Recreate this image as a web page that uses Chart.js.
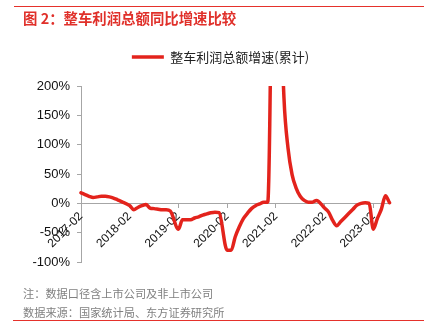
<!DOCTYPE html>
<html>
<head>
<meta charset="utf-8">
<script src="https://cdn.jsdelivr.net/npm/chart.js@4.4.1/dist/chart.umd.min.js"></script>
<style>
  html, body { margin: 0; padding: 0; background: #ffffff; }
  #wrap { position: relative; width: 424px; height: 336px; overflow: hidden; }
  #c { position: absolute; left: 0; top: 0; }
  .rule { position: absolute; left: 14px; width: 410px; height: 1px; background: #e5312b; }
  #title { position: absolute; left: 23px; top: 8px; font-family: "Noto Sans CJK SC", sans-serif; font-weight: bold; font-size: 14.4px; color: #e0302a; white-space: nowrap; line-height: 19px; }
  .note { position: absolute; left: 23px; font-family: "Noto Sans CJK SC", sans-serif; font-size: 11.2px; color: #808080; white-space: nowrap; line-height: 15px; }
</style>
</head>
<body>
<div id="wrap">
  <canvas id="c" width="424" height="336"></canvas>
  <div class="rule" style="top:6px;"></div>
  <div id="title">图 2：整车利润总额同比增速比较</div>
  <div class="note" style="top:286px;">注：数据口径含上市公司及非上市公司</div>
  <div class="note" style="top:305px;">数据来源：国家统计局、东方证券研究所</div>
  <div class="rule" style="top:320px; left:13px; width:411px;"></div>
</div>
<script>
// Categories (monthly, cumulative data; January not published -> null)
const months = [
  '2017-02','2017-03','2017-04','2017-05','2017-06','2017-07','2017-08','2017-09','2017-10','2017-11','2017-12',
  '2018-01','2018-02','2018-03','2018-04','2018-05','2018-06','2018-07','2018-08','2018-09','2018-10','2018-11','2018-12',
  '2019-01','2019-02','2019-03','2019-04','2019-05','2019-06','2019-07','2019-08','2019-09','2019-10','2019-11','2019-12',
  '2020-01','2020-02','2020-03','2020-04','2020-05','2020-06','2020-07','2020-08','2020-09','2020-10','2020-11','2020-12',
  '2021-01','2021-02','2021-03','2021-04','2021-05','2021-06','2021-07','2021-08','2021-09','2021-10','2021-11','2021-12',
  '2022-01','2022-02','2022-03','2022-04','2022-05','2022-06','2022-07','2022-08','2022-09','2022-10','2022-11','2022-12',
  '2023-01','2023-02','2023-03','2023-04','2023-05','2023-06'
];
// 整车利润总额增速(累计), %
const profitGrowth = [
  18, 15, 12, 10, 11, 12, 12, 11, 9, 6, 3,
  null, -4, -11, -7, -4, -2, -8, -9, -10, -11, -11, -13,
  null, -44, -28, -28, -28, -25, -23, -20, -18, -16, -15, -16,
  null, -80, -80, -57, -40, -26, -17, -9, -4, -1, 2, 2,
  null, 850, 400, 180, 94, 49, 26, 12, 5, 2, 2, 5,
  null, -8, -15, -29, -38, -31, -24, -17, -10, -3, 0, 1,
  0, -44, -26, -10, 13, 1
];
const xTickLabels = ['2017-02','2018-02','2019-02','2020-02','2021-02','2022-02','2023-02'];
const yTickValues = [-100, -50, 0, 50, 100, 150, 200];
const seriesName = '整车利润总额增速(累计)';

const RED = '#e3231c';
const GREY = '#a6a6a6';

const legendSpace = {
  id: 'legendSpace',
  beforeInit(chart) {
    const origFit = chart.legend.fit;
    chart.legend.fit = function () {
      origFit.bind(chart.legend)();
      this.height += 12.5;
    };
  }
};

new Chart(document.getElementById('c'), {
  type: 'line',
  data: {
    labels: months,
    datasets: [{
      label: seriesName,
      data: profitGrowth,
      borderColor: RED,
      backgroundColor: RED,
      borderWidth: 3.5,
      pointRadius: 0,
      pointHoverRadius: 0,
      spanGaps: true,
      cubicInterpolationMode: 'monotone',
      borderJoinStyle: 'round',
      borderCapStyle: 'round',
      clip: { left: 3, right: 3, top: 0, bottom: 3 }
    }]
  },
  options: {
    responsive: false,
    animation: false,
    devicePixelRatio: 1,
    layout: { padding: { left: 51.5, right: 34.5, top: 40.5, bottom: 74 } },
    plugins: {
      legend: {
        display: true,
        position: 'top',
        align: 'center',
        labels: {
          usePointStyle: true,
          pointStyle: 'line',
          pointStyleWidth: 32,
          padding: 10,
          color: '#222222',
          font: { family: '"Noto Sans CJK SC", sans-serif', size: 13 }
        }
      },
      tooltip: { enabled: false },
      title: { display: false }
    },
    scales: {
      y: {
        type: 'linear',
        min: -100,
        max: 200,
        afterBuildTicks(scale) {
          scale.ticks = yTickValues.map(v => ({ value: v }));
        },
        afterFit(scale) {
          scale.width = 29.5;
          // let the tick labels extend into the left padding instead of being clipped
          scale._computeLabelArea = function () { return undefined; };
        },
        border: { display: true, color: GREY, width: 1 },
        grid: { drawOnChartArea: false, drawTicks: true, tickLength: 4, color: GREY },
        ticks: {
          padding: 7,
          color: '#111111',
          font: { family: '"Liberation Sans", Arial, sans-serif', size: 13 },
          callback: v => v + '%'
        }
      },
      x: {
        type: 'category',
        position: { y: 0 },
        offset: false,
        afterBuildTicks(scale) {
          scale.ticks = scale.ticks.filter(t => xTickLabels.includes(months[t.value]));
        },
        border: { display: true, color: GREY, width: 1 },
        grid: { drawOnChartArea: false, drawTicks: true, tickLength: 4, color: GREY, offset: false },
        ticks: {
          autoSkip: false,
          minRotation: 45,
          maxRotation: 45,
          padding: 2,
          color: '#111111',
          font: { family: '"Liberation Sans", Arial, sans-serif', size: 12 },
          callback: function (value) { return months[value]; }
        }
      }
    }
  },
  plugins: [legendSpace]
});
</script>
</body>
</html>
